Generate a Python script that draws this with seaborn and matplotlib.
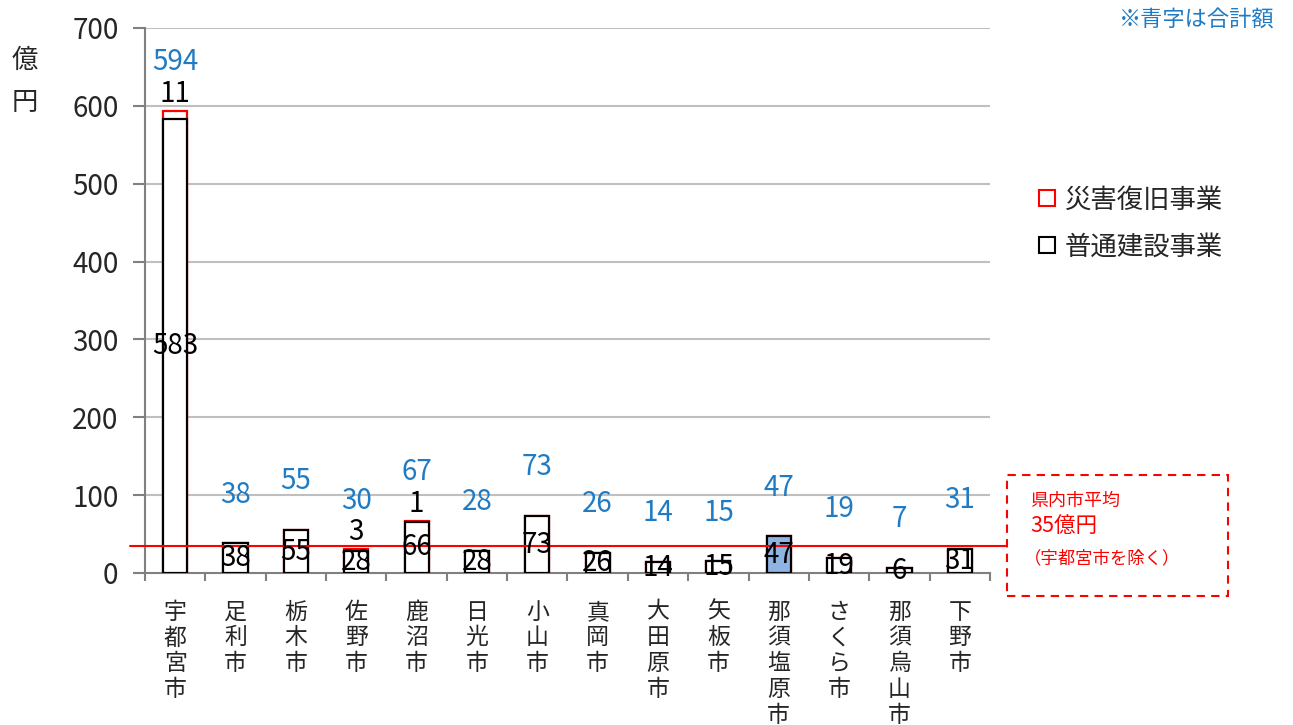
import numpy as np
import pandas as pd
import seaborn as sns
import matplotlib.pyplot as plt
from matplotlib.patches import Rectangle
from matplotlib.lines import Line2D

# data (億円)
cities = ["宇都宮市", "足利市", "栃木市", "佐野市", "鹿沼市", "日光市", "小山市",
          "真岡市", "大田原市", "矢板市", "那須塩原市", "さくら市", "那須烏山市", "下野市"]
ordinary = [583, 38, 55, 28, 66, 28, 73, 26, 14, 15, 47, 19, 6, 31]
disaster = [11, 0.3, 0.4, 2.6, 1, 0.2, 0.2, 0.2, 0.3, 0, 0.2, 0.2, 0.4, 0.3]
totals = [594, 38, 55, 30, 67, 28, 73, 26, 14, 15, 47, 19, 7, 31]
highlight = "那須塩原市"

sns.set_theme(style="white")
plt.rcParams['font.family'] = ['Noto Sans CJK JP', 'DejaVu Sans']

df = pd.DataFrame({"city": cities, "ordinary": ordinary, "disaster": disaster})
df["stack"] = df["ordinary"] + df["disaster"]

fig = plt.figure(figsize=(12.93, 7.25), dpi=100)
ax = fig.add_axes([0.1121, 0.2097, 0.6536, 0.7517])

grid_c = "#bfbfbf"
blue = "#1f7bc4"
red = "#ff0000"

for v in range(100, 800, 100):
    ax.axhline(v, color=grid_c, lw=1.5, zorder=0)

# disaster segment (red outline) drawn as full stack, covered below by ordinary bar
sns.barplot(data=df, x="city", y="stack", color="white", edgecolor=red,
            linewidth=1.6, width=0.4, ax=ax, zorder=2)
fills = ["#8eb4e3" if c == highlight else "white" for c in cities]
sns.barplot(data=df, x="city", y="ordinary", hue="city", palette=fills,
            edgecolor="black", linewidth=1.6, width=0.4, ax=ax, zorder=3,
            legend=False, saturation=1)

fs = 20
for i in range(len(cities)):
    top = ordinary[i] + disaster[i]
    ax.text(i, ordinary[i] / 2, str(ordinary[i]), ha="center", va="center",
            fontsize=fs, color="black", zorder=5)
    if disaster[i] >= 1:
        ax.annotate(str(round(disaster[i])), (i, top), xytext=(0, 12),
                    textcoords="offset points", ha="center", va="center",
                    fontsize=fs, color="black", zorder=5)
    ax.annotate(str(totals[i]), (i, top), xytext=(0, 35),
                textcoords="offset points", ha="center", va="center",
                fontsize=fs, color=blue, zorder=5)

# average excluding 宇都宮市
avg = np.mean(totals[1:])
ax.plot([-0.018, 1.02], [avg, avg], transform=ax.get_yaxis_transform(),
        color=red, lw=1.5, clip_on=False, zorder=4)

ax.set_xlim(-0.5, len(cities) - 0.5)
ax.set_ylim(0, 700)
ax.set_yticks(range(0, 800, 100))
ax.tick_params(axis="y", labelsize=20, length=9, color="#808080", width=1.5,
               left=True, pad=10)
ax.set_xticks(range(len(cities)))
ax.set_xticklabels(["\n".join(c) for c in cities], fontsize=16.5,
                   linespacing=1.15, va="top")
ax.tick_params(axis="x", length=0, pad=20)
ax.set_xticks(np.arange(-0.5, len(cities), 1), minor=True)
ax.tick_params(axis="x", which="minor", length=5.5, color="#808080", width=1.5,
               bottom=True)
ax.set_xlabel("")
ax.set_ylabel("")
for s in ["top", "right"]:
    ax.spines[s].set_visible(False)
for s in ["left", "bottom"]:
    ax.spines[s].set_color("#808080")
    ax.spines[s].set_linewidth(1.5)

fig.text(25 / 1293, 1 - 60 / 725, "億", fontsize=19, ha="center", va="center")
fig.text(25 / 1293, 1 - 103 / 725, "円", fontsize=19, ha="center", va="center")
fig.text(1275 / 1293, 1 - 20 / 725, "※青字は合計額", fontsize=16, color=blue,
         ha="right", va="center")

handles = [Line2D([], [], ls="none", marker="s", markersize=12, markerfacecolor="white",
                  markeredgecolor=red, markeredgewidth=1.5),
           Line2D([], [], ls="none", marker="s", markersize=12, markerfacecolor="white",
                  markeredgecolor="black", markeredgewidth=1.5)]
fig.legend(handles, ["災害復旧事業", "普通建設事業"], loc="upper left",
           bbox_to_anchor=(1025 / 1293, 1 - 176 / 725), frameon=False,
           fontsize=19, handletextpad=0.2, labelspacing=0.75, handlelength=0.9,
           borderaxespad=0)

box = Rectangle((1007 / 1293, 1 - 596 / 725), 221 / 1293, 121 / 725,
                transform=fig.transFigure, fill=False, edgecolor=red,
                lw=1.5, ls=(0, (4, 3)))
fig.patches.append(box)
fig.text(1030 / 1293, 1 - 501 / 725, "県内市平均", fontsize=13, color=red, va="center")
fig.text(1030 / 1293, 1 - 527 / 725, f"{avg:.0f}億円", fontsize=15.5, color=red, va="center")
fig.text(1024 / 1293, 1 - 558 / 725, "（宇都宮市を除く）", fontsize=12.5, color=red, va="center")

fig.savefig("out.png", dpi=100)
